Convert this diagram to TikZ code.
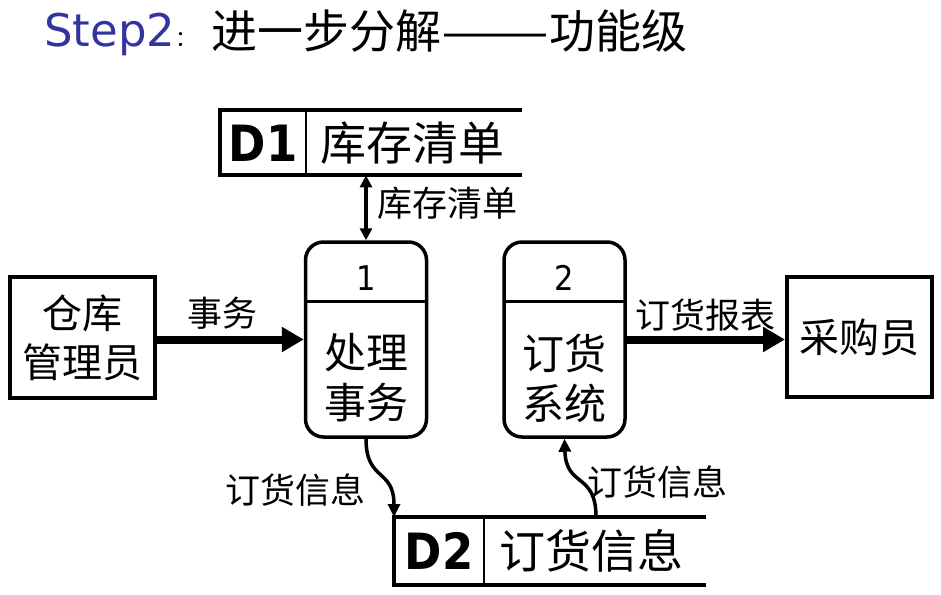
\documentclass[tikz,border=0pt]{standalone}
\usepackage{fontspec}
\usetikzlibrary{arrows.meta}
\newfontfamily\cjk{Noto Sans CJK SC}
\newfontfamily\tah{DejaVu Sans Condensed}
\newfontfamily\ver{DejaVu Sans}
\definecolor{stepblue}{RGB}{52,52,160}
\tikzset{
  ext/.style={draw, line width=4pt, inner sep=0pt, align=center, font=\cjk\fontsize{40}{49}\selectfont},
  proc/.style={draw, line width=3.5pt, rounded corners=18pt, inner sep=0pt},
  storeline/.style={line width=4pt},
  storediv/.style={line width=1.5pt},
  bigflow/.style={line width=8pt, -{Triangle[length=22pt,width=24pt]}},
  smallflow/.style={line width=3.5pt, -{Triangle[length=13pt,width=12pt]}},
  dblflow/.style={line width=3.5pt, {Triangle[length=12pt,width=12pt]}-{Triangle[length=12pt,width=12pt]}},
  lbl/.style={inner sep=0pt, font=\cjk\fontsize{35}{40}\selectfont},
  ptext/.style={inner sep=0pt, align=center, font=\cjk\fontsize{42}{50}\selectfont},
  pnum/.style={inner sep=0pt, font=\tah\fontsize{34}{40}\selectfont},
  sid/.style={inner sep=0pt, font=\tah\bfseries\fontsize{50}{56}\selectfont},
  sname/.style={inner sep=0pt, font=\cjk\fontsize{46}{50}\selectfont}
}
\begin{document}
\begin{tikzpicture}[x=1pt,y=-1pt]
\useasboundingbox (0,0) rectangle (941,594);
% title
\node[anchor=base west, inner sep=0pt, text=stepblue, font=\ver\fontsize{45}{50}\selectfont] (t1) at (44,47) {Step2};
\node[anchor=base west, inner sep=0pt, font=\cjk\fontsize{22}{24}\selectfont] (t2) at (t1.base east) {：};
\node[anchor=west, inner sep=0pt, font=\cjk\fontsize{46}{50}\selectfont] (t3) at (211,31) {进一步分解\scalebox{1.4}[1]{——}功能级};
% D1 store
\node[minimum width=302pt, minimum height=65pt, inner sep=0pt, anchor=north west] (d1) at (220,110) {};
\draw[storeline] (d1.north east) -- (d1.north west) -- (d1.south west) -- (d1.south east);
\coordinate (d1a) at (306,110);
\coordinate (d1b) at (306,175);
\draw[storediv] (d1a) -- (d1b);
\node[sid] (d1id) at (263,143) {D1};
\node[sname] (d1nm) at (412,143) {库存清单};
% D2 store
\node[minimum width=312pt, minimum height=68pt, inner sep=0pt, anchor=north west] (d2) at (394,517) {};
\draw[storeline] (d2.north east) -- (d2.north west) -- (d2.south west) -- (d2.south east);
\coordinate (d2a) at (484,517);
\coordinate (d2b) at (484,585);
\draw[storediv] (d2a) -- (d2b);
\node[sid] (d2id) at (439,551) {D2};
\node[sname] (d2nm) at (591,551) {订货信息};
% processes
\node[proc, minimum width=121pt, minimum height=195pt] (p1) at (366,339.5) {};
\coordinate (p1l) at (306,301);
\coordinate (p1r) at (427,301);
\draw[line width=3pt] (p1l) -- (p1r);
\node[pnum] (p1n) at (366,278) {1};
\node[ptext] (p1t) at (366,378) {处理\\事务};
\node[proc, minimum width=121pt, minimum height=195pt] (p2) at (564.5,339.5) {};
\coordinate (p2l) at (504,301);
\coordinate (p2r) at (625,301);
\draw[line width=3pt] (p2l) -- (p2r);
\node[pnum] (p2n) at (564.5,278) {2};
\node[ptext] (p2t) at (564.5,378) {订货\\系统};
% externals
\node[ext, minimum width=145pt, minimum height=121pt] (e1) at (82.5,337.5) {仓库\\管理员};
\node[ext, minimum width=145pt, minimum height=120pt] (e2) at (859.5,337) {采购员};
% flows
\draw[bigflow] (e1.east |- p1.west) -- (p1.west);
\draw[bigflow] (p2.east) -- (e2.west |- p2.east);
\draw[dblflow] (p1.north |- d1.south) -- (p1.north);
\draw[smallflow] (p1.south) .. controls (366,482) and (394,468) .. (d2.north west);
\coordinate (d2up) at (596,517);
\draw[smallflow] (d2up) .. controls (596,472) and (566,488) .. (p2.south);
% labels
\node[lbl] (l1) at (222,313) {事务};
\node[lbl] (l2) at (447,203) {库存清单};
\node[lbl] (l3) at (705,315) {订货报表};
\node[lbl] (l4) at (295,490) {订货信息};
\node[lbl] (l5) at (657,482) {订货信息};
\end{tikzpicture}
\end{document}
